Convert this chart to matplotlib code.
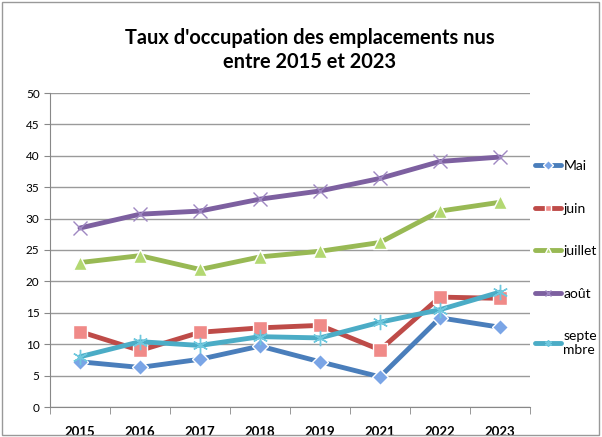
import matplotlib
matplotlib.use("Agg")
import matplotlib.pyplot as plt
from matplotlib.patches import Rectangle

years = ["2015", "2016", "2017", "2018", "2019", "2021", "2022", "2023"]
mai = [7.2, 6.3, 7.6, 9.7, 7.2, 4.8, 14.2, 12.7]
juin = [12.0, 9.0, 11.9, 12.6, 13.0, 9.1, 17.5, 17.3]
juillet = [23.0, 24.1, 21.9, 23.9, 24.8, 26.2, 31.2, 32.6]
aout = [28.5, 30.7, 31.2, 33.1, 34.4, 36.4, 39.1, 39.8]
septembre = [8.0, 10.4, 9.8, 11.2, 11.0, 13.5, 15.5, 18.3]
labels = ["Mai", "juin", "juillet", "août", "septe\nmbre"]
title = "Taux d'occupation des emplacements nus\nentre 2015 et 2023"

plt.rcParams['font.family'] = ['Lato', 'DejaVu Sans']
fig = plt.figure(figsize=(6.02, 4.37), dpi=100)
ax = fig.add_axes([50/602, 1-407/437, 480/602, 314/437])

x = list(range(len(years)))
styles = [
    (mai, "#4A7EBB", "D", "#7AA5E6", 8),
    (juin, "#BE4B48", "s", "#F08A88", 10),
    (juillet, "#98B954", "^", "#B3D872", 10),
    (aout, "#7D60A0", "x", "#9F88C2", 10),
    (septembre, "#4BACC6", (6, 2, 0), "#6FC8DE", 11),
]
lines = []
for (vals, lc, m, mc, ms), lab in zip(styles, labels):
    ln, = ax.plot(x, vals, color=lc, lw=3.5, marker=m, markersize=ms,
                  markerfacecolor=mc, markeredgecolor=mc if m in ("x", (6, 2, 0)) else "#ffffff",
                  markeredgewidth=1.0, label=lab, solid_capstyle="round")
    lines.append(ln)

ax.set_xlim(-0.5, len(years) - 0.5)
ax.set_ylim(0, 50)
ax.set_yticks(range(0, 51, 5))
ax.set_xticks(x)
ax.set_xticklabels(years, fontsize=9.5, fontweight="bold")
ax.tick_params(axis="y", labelsize=8.5, length=4, color="#888888")
ax.tick_params(axis="x", length=0, pad=14)
ax.set_xticks([i - 0.5 for i in range(len(years) + 1)], minor=True)
ax.tick_params(axis="x", which="minor", length=5, color="#888888")
ax.grid(axis="y", color="#9a9a9a", lw=1)
ax.set_axisbelow(True)
for s in ["top", "right"]:
    ax.spines[s].set_visible(False)
ax.spines["left"].set_color("#888888")
ax.spines["bottom"].set_color("#888888")

leg = fig.legend(handles=lines, labels=labels, loc="upper left",
                 bbox_to_anchor=(535/602, 1-160/437), frameon=False,
                 fontsize=10, handlelength=1.9, labelspacing=2.2,
                 handletextpad=0.15, borderaxespad=0, borderpad=0)
for h in leg.legend_handles:
    h.set_markersize(5)

fig.text(310/602, 1-50/437, title, ha="center", va="center",
         fontsize=14.4, fontweight="bold", linespacing=1.3)

fig.patches.append(Rectangle((2/602, 2/437), 597/602, 433/437, transform=fig.transFigure,
                             fill=False, edgecolor="#999999", lw=1))

fig.savefig("out.png", dpi=100)
